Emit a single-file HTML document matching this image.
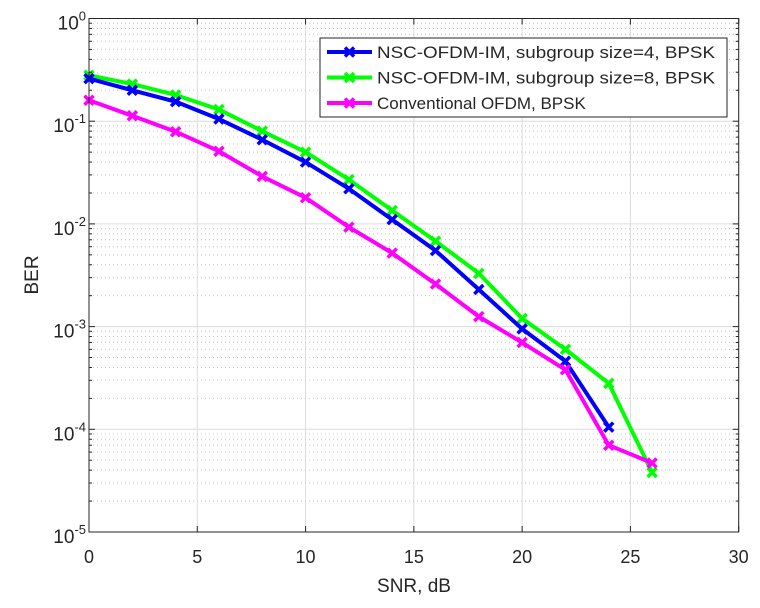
<!DOCTYPE html>
<html><head><meta charset="utf-8"><style>
body{margin:0;background:#fff}
svg text{font-family:"Liberation Sans",sans-serif;fill:#262626}
</style></head><body>
<svg id="chart" width="760" height="603" xmlns="http://www.w3.org/2000/svg">
<rect width="760" height="603" fill="#fff"/>
<g id="grid"></g>
<g id="series"></g>
<g id="axes"></g>
<text x="414" y="592" font-size="19" text-anchor="middle">SNR, dB</text>
<text x="0" y="0" font-size="19" text-anchor="middle" transform="translate(38,275) rotate(-90)">BER</text>
<g id="legend"></g>
</svg>
<script>
const snr = [0,2,4,6,8,10,12,14,16,18,20,22,24,26];
const berSub4 = [0.26,0.2,0.155,0.105,0.066,0.04,0.022,0.011,0.0055,0.0023,0.00095,0.00046,0.000105];
const berSub8 = [0.28,0.23,0.18,0.13,0.08,0.05,0.027,0.0135,0.0068,0.0033,0.0012,0.0006,0.00028,0.000038];
const berConv = [0.16,0.113,0.079,0.051,0.029,0.018,0.0093,0.0052,0.0026,0.00125,0.0007,0.00038,0.00007,0.000047];
const xTicks = [0,5,10,15,20,25,30];
const yDecades = [0,-1,-2,-3,-4,-5];
const seriesNames = ["NSC-OFDM-IM, subgroup size=4, BPSK","NSC-OFDM-IM, subgroup size=8, BPSK","Conventional OFDM, BPSK"];

const L=89,R=738.7,T=18.5,B=532;
const NS="http://www.w3.org/2000/svg";
const xs=v=>L+(v-0)/(30-0)*(R-L);
const ys=v=>T+(0-Math.log10(v))/5*(B-T);
function mk(tag,attrs,parent){const e=document.createElementNS(NS,tag);for(const k in attrs)e.setAttribute(k,attrs[k]);parent.appendChild(e);return e;}
const grid=document.getElementById('grid'),axes=document.getElementById('axes'),ser=document.getElementById('series'),leg=document.getElementById('legend');
xTicks.forEach(t=>{const x=xs(t);
 const g=mk('line',{x1:x,x2:x,y1:T,y2:B,stroke:'#dcdcdc','stroke-width':1},grid);
 
 mk('line',{x1:x,x2:x,y1:B,y2:B-6,stroke:'#262626'},axes);mk('line',{x1:x,x2:x,y1:T,y2:T+6,stroke:'#262626'},axes);
 const tx=mk('text',{x:x,y:B+31,'font-size':18,'text-anchor':'middle'},axes);tx.textContent=t;
 
});
yDecades.forEach(d=>{const y=ys(Math.pow(10,d));
 const g=mk('line',{x1:L,x2:R,y1:y,y2:y,stroke:'#dcdcdc','stroke-width':1},grid);
 
 mk('line',{x1:L,x2:L+6,y1:y,y2:y,stroke:'#262626'},axes);mk('line',{x1:R,x2:R-6,y1:y,y2:y,stroke:'#262626'},axes);
 const tx=mk('text',{x:L-3,y:y+11,'font-size':19,'text-anchor':'end'},axes);
 
 tx.innerHTML='10<tspan dy="-9" font-size="13">'+d+'</tspan>';
 if(d>-5){for(let m=2;m<=9;m++){const yy=ys(m*Math.pow(10,d-1));
  const g2=mk('line',{x1:L,x2:R,y1:yy,y2:yy,stroke:'#c8c8c8','stroke-width':1,'stroke-dasharray':'1,3'},grid);
  
  mk('line',{x1:L,x2:L+3,y1:yy,y2:yy,stroke:'#262626'},axes);mk('line',{x1:R,x2:R-3,y1:yy,y2:yy,stroke:'#262626'},axes);}}
});
const box=mk('rect',{x:L,y:T,width:R-L,height:B-T,fill:'none',stroke:'#262626','stroke-width':1},axes);

function marker(x,y,c,p){const s=4.5;
 mk('path',{d:`M${x-s},${y-s}L${x+s},${y+s}M${x-s},${y+s}L${x+s},${y-s}`,stroke:c,'stroke-width':3.5},p);}
const data=[[berSub4,'#0000ff','series-subgroup-4'],[berSub8,'#00ff00','series-subgroup-8'],[berConv,'#ff00ff','series-conventional']];
[data[1],data[0],data[2]].forEach(([vals,c,name])=>{
 const g=mk('g',{},ser);
 const pts=vals.map((v,i)=>xs(snr[i])+','+ys(v)).join(' ');
 mk('polyline',{points:pts,fill:'none',stroke:c,'stroke-width':4,'stroke-linejoin':'round'},g);
 vals.forEach((v,i)=>marker(xs(snr[i]),ys(v),c,g));
});
mk('rect',{x:320,y:38,width:407,height:79,fill:'#fff',stroke:'#262626','stroke-width':1},leg);
data.forEach(([v,c,name],i)=>{const y=52+i*25.5;
 const g=mk('g',{},leg);
 mk('line',{x1:327,x2:372,y1:y,y2:y,stroke:c,'stroke-width':4},g);marker(349.5,y,c,g);
 const t=mk('text',{x:377,y:y+6,'font-size':17,textLength:338,lengthAdjust:'spacingAndGlyphs'},g);t.textContent=seriesNames[i];
 if(i===2){t.removeAttribute('textLength');t.removeAttribute('lengthAdjust');t.setAttribute('font-size','17');}
});
</script>
</body></html>
